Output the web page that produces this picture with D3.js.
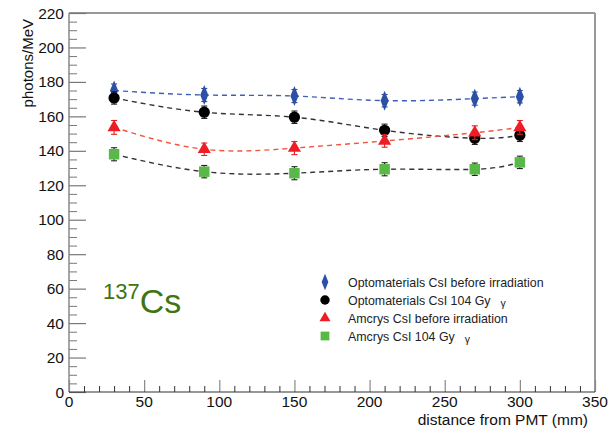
<!DOCTYPE html>
<html>
<head>
<meta charset="utf-8">
<script src="https://cdn.jsdelivr.net/npm/d3@7"></script>
<style>
  body { margin: 0; background: #fff; }
  text { font-family: "Liberation Sans", Arial, sans-serif; }
</style>
</head>
<body>
<div class="canvas"></div>
<script>
// data
const distances = [30, 90, 150, 210, 270, 300];
const optoBefore = [175.0, 172.4, 171.8, 169.1, 170.3, 171.4];
const optoBeforeErr = [3.8, 3.8, 3.8, 3.6, 3.8, 3.6];
const opto104 = [170.7, 162.4, 159.5, 151.9, 147.3, 149.0];
const opto104Err = [3.6, 3.6, 3.6, 3.6, 3.6, 3.6];
const amcrysBefore = [153.6, 140.9, 141.6, 145.7, 150.5, 153.6];
const amcrysBeforeErr = [4.0, 3.6, 3.8, 3.6, 4.0, 4.0];
const amcrys104 = [138.0, 127.9, 127.0, 129.3, 129.3, 133.3];
const amcrys104Err = [3.8, 3.6, 3.8, 3.8, 3.6, 3.6];
const legendNames = ['Optomaterials CsI before irradiation', 'Optomaterials CsI 104 Gy', 'Amcrys CsI before irradiation', 'Amcrys CsI 104 Gy'];
const legendGamma = [false, true, false, true];
const xTicks = [0, 50, 100, 150, 200, 250, 300, 350];
const yTicks = [0, 20, 40, 60, 80, 100, 120, 140, 160, 180, 200, 220];

const frame = { left: 69, right: 595, top: 13, bottom: 392 };

const svg = d3.select('.canvas')
    .append('svg')
    .attr('width', 615)
    .attr('height', 433);

const x = d3.scaleLinear().domain([0, 350]).range([frame.left, frame.right]);
const y = d3.scaleLinear().domain([0, 220]).range([frame.bottom, frame.top]);

// frame
svg.append('line').attr('x1', frame.left).attr('x2', frame.right).attr('y1', frame.top).attr('y2', frame.top)
    .attr('stroke', '#333').attr('stroke-width', 1.2);
svg.append('line').attr('x1', frame.right).attr('x2', frame.right).attr('y1', frame.top).attr('y2', frame.bottom)
    .attr('stroke', '#999').attr('stroke-width', 2);

// y axis: ticks point inward
const yAxis = svg.append('g')
    .attr('transform', `translate(${frame.left},0)`)
    .call(d3.axisRight(y).tickValues(yTicks).tickSize(17).tickFormat(''))
    .call(g => g.select('.domain').remove());
yAxis.selectAll('line').attr('stroke', '#777').attr('stroke-width', 1.2);
svg.append('g')
    .attr('transform', `translate(${frame.left},0)`)
    .call(d3.axisRight(y).tickValues(d3.range(0, 221, 5).filter(v => v % 20)).tickSize(8).tickFormat(''))
    .call(g => g.select('.domain').remove())
    .selectAll('line').attr('stroke', '#777');
svg.append('line').attr('x1', frame.left).attr('x2', frame.left).attr('y1', frame.top).attr('y2', frame.bottom)
    .attr('stroke', '#888').attr('stroke-width', 1.5);
svg.append('g').selectAll('text')
    .data(yTicks)
    .enter().append('text')
        .attr('x', 64)
        .attr('y', d => y(d) + 5.5)
        .attr('text-anchor', 'end')
        .attr('font-size', 15.5)
        .attr('fill', '#111')
        .text(d => d);

// x axis: ticks point up
const xAxis = svg.append('g')
    .attr('transform', `translate(0,${frame.bottom})`)
    .call(d3.axisTop(x).tickValues(xTicks).tickSize(12).tickFormat(''))
    .call(g => g.select('.domain').remove());
xAxis.selectAll('line').attr('stroke', '#888').attr('stroke-width', 1.2);
svg.append('g')
    .attr('transform', `translate(0,${frame.bottom})`)
    .call(d3.axisTop(x).tickValues(d3.range(0, 351, 10).filter(v => v % 50)).tickSize(6).tickFormat(''))
    .call(g => g.select('.domain').remove())
    .selectAll('line').attr('stroke', '#333');
svg.append('line').attr('x1', frame.left).attr('x2', frame.right).attr('y1', frame.bottom).attr('y2', frame.bottom)
    .attr('stroke', '#333').attr('stroke-width', 1.2);
svg.append('g').selectAll('text')
    .data(xTicks)
    .enter().append('text')
        .attr('x', d => x(d))
        .attr('y', 407)
        .attr('text-anchor', 'middle')
        .attr('font-size', 15.5)
        .attr('fill', '#111')
        .text(d => d);

// axis titles
svg.append('text')
    .attr('transform', 'translate(33,19) rotate(-90)')
    .attr('text-anchor', 'end')
    .attr('font-size', 15)
    .attr('fill', '#111')
    .text('photons/MeV');
svg.append('text')
    .attr('x', 588)
    .attr('y', 425)
    .attr('text-anchor', 'end')
    .attr('font-size', 15.5)
    .attr('fill', '#111')
    .text('distance from PMT (mm)');

// series
const series = [
    { values: optoBefore, errors: optoBeforeErr, marker: d3.symbolDiamond, size: 115, fill: '#2d4fa4', line: '#3e5fb8', bar: '#2d4fa4', sx: 0.7 },
    { values: opto104, errors: opto104Err, marker: d3.symbolCircle, size: 100, fill: '#000', line: '#333', bar: '#222', sx: 1 },
    { values: amcrysBefore, errors: amcrysBeforeErr, marker: d3.symbolTriangle, size: 75, fill: '#ee1c24', line: '#f0553f', bar: '#e02020', sx: 1 },
    { values: amcrys104, errors: amcrys104Err, marker: d3.symbolSquare, size: 110, fill: '#5ab848', line: '#333', bar: '#222', sx: 1 }
];

const curve = d3.line()
    .x(d => x(d[0]))
    .y(d => y(d[1]))
    .curve(d3.curveNatural);

series.forEach(s => {
    const pts = distances.map((d, i) => [d, s.values[i], s.errors[i]]);

    svg.append('path')
        .attr('d', curve(pts))
        .attr('fill', 'none')
        .attr('stroke', s.line)
        .attr('stroke-width', 1.4)
        .attr('stroke-dasharray', '5,4');

    const bars = svg.append('g').selectAll('g')
        .data(pts)
        .enter().append('g')
            .attr('stroke', s.bar)
            .attr('stroke-width', 1.1);
    bars.append('line')
        .attr('x1', d => x(d[0])).attr('x2', d => x(d[0]))
        .attr('y1', d => y(d[1] - d[2])).attr('y2', d => y(d[1] + d[2]));
    bars.append('line')
        .attr('x1', d => x(d[0]) - 3).attr('x2', d => x(d[0]) + 3)
        .attr('y1', d => y(d[1] - d[2])).attr('y2', d => y(d[1] - d[2]));
    bars.append('line')
        .attr('x1', d => x(d[0]) - 3).attr('x2', d => x(d[0]) + 3)
        .attr('y1', d => y(d[1] + d[2])).attr('y2', d => y(d[1] + d[2]));

    svg.append('g').selectAll('path')
        .data(pts)
        .enter().append('path')
            .attr('d', d3.symbol().type(s.marker).size(s.size))
            .attr('transform', d => `translate(${x(d[0])},${y(d[1])}) scale(${s.sx},1)`)
            .attr('fill', s.fill);
});

// legend
const legend = svg.append('g');
const rows = legend.selectAll('g')
    .data(series)
    .enter().append('g')
        .attr('transform', (d, i) => `translate(325,${282 + i * 18})`);
rows.append('path')
    .attr('d', d => d3.symbol().type(d.marker).size(d.size * 0.7)())
    .attr('transform', d => `scale(${d.sx},1)`)
    .attr('fill', d => d.fill);
rows.append('text')
    .attr('x', 23)
    .attr('y', 4.5)
    .attr('font-size', 12.4)
    .attr('fill', '#222')
    .text((d, i) => legendNames[i]);
rows.filter((d, i) => legendGamma[i])
    .append('text')
        .attr('y', 7)
        .attr('x', function(d) {
            const prev = this.parentNode.querySelector('text');
            return 23 + prev.getComputedTextLength() + 10;
        })
        .attr('font-size', 10.5)
        .attr('fill', '#222')
        .text('γ');

// isotope label
const iso = svg.append('text')
    .attr('x', 103)
    .attr('y', 313)
    .attr('fill', '#3f7412')
    .attr('font-family', 'Lato, "Open Sans", sans-serif');
iso.append('tspan')
    .attr('font-size', 22)
    .attr('dy', -14)
    .text('137');
iso.append('tspan')
    .attr('font-size', 34)
    .attr('dy', 14)
    .text('Cs');
</script>
</body>
</html>
